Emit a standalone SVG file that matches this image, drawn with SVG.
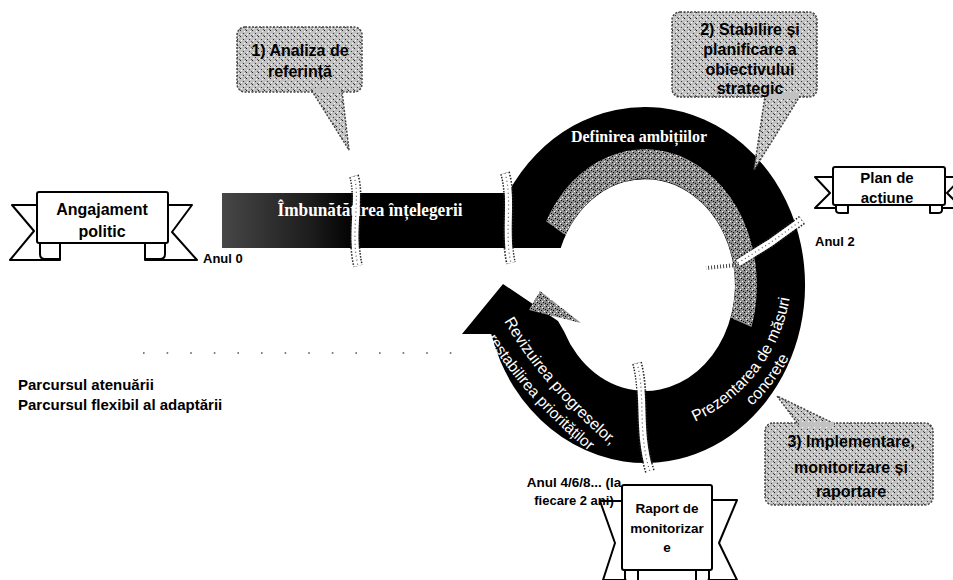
<svg xmlns="http://www.w3.org/2000/svg" width="953" height="580" viewBox="0 0 953 580">
<defs>
<pattern id="stipDark" width="6" height="6" patternUnits="userSpaceOnUse">
<rect width="6" height="6" fill="#8e8e8e"/>
<rect x="0" y="0" width="1" height="1" fill="#000"/><rect x="3" y="2" width="1" height="1" fill="#000"/>
<rect x="1" y="4" width="1" height="1" fill="#000"/><rect x="5" y="3" width="1" height="1" fill="#111"/>
<rect x="2" y="1" width="1" height="1" fill="#fff"/><rect x="4" y="5" width="1" height="1" fill="#fff"/>
</pattern>
<pattern id="stipLight" width="6" height="6" patternUnits="userSpaceOnUse">
<rect width="6" height="6" fill="#c2c2c2"/>
<rect x="0" y="0" width="1" height="1" fill="#222"/><rect x="3" y="3" width="1" height="1" fill="#333"/>
<rect x="1" y="4" width="1" height="1" fill="#fff"/><rect x="4" y="1" width="1" height="1" fill="#fff"/>
<rect x="5" y="5" width="1" height="1" fill="#555"/>
</pattern>
<linearGradient id="barGrad" gradientUnits="userSpaceOnUse" x1="222" y1="0" x2="520" y2="0">
<stop offset="0" stop-color="#474747"/><stop offset="0.3" stop-color="#1c1c1c"/><stop offset="0.45" stop-color="#000"/><stop offset="1" stop-color="#000"/>
</linearGradient>
<style>
.cl{font-family:"Liberation Sans",Arial,sans-serif;font-weight:bold;fill:#000;text-anchor:middle}
.lab{font-family:"Liberation Sans",Arial,sans-serif;font-weight:bold;fill:#000}
.rt{font-family:"Liberation Sans",Arial,sans-serif;fill:#fff}
.sf{font-family:"Liberation Serif","Times New Roman",serif;font-weight:bold;fill:#fff;text-anchor:middle}
.rib{fill:#fff;stroke:#000;stroke-width:2;stroke-linejoin:round}
.call{fill:url(#stipLight);stroke:#444;stroke-width:1.5;stroke-dasharray:2 1.5}
.divo{fill:none;stroke:#222;stroke-width:10;stroke-dasharray:1.5 1.5}
.divw{fill:none;stroke:#fff;stroke-width:7}
.divc{fill:none;stroke:#555;stroke-width:1.2;stroke-dasharray:1 3}
</style>
</defs>

<g id="ring">
<path id="seg-definirea" d="M 222,193 L 508,193 A 160 178 0 0 1 795.4,224.1 L 733.6,266.6 A 90 106 0 0 0 560.7,248 L 222,248 Z" fill="url(#barGrad)"/>
<path id="seg-prezentarea" d="M 795.4,224.1 A 160 178 0 0 1 650,462.9 L 640,390.8 A 90 106 0 0 0 733.6,266.6 Z" fill="#000"/>
<path id="seg-revizuirea" d="M 650,462.9 A 160 178 0 0 1 491.2,334.1 L 462,334 L 503,284 L 558,321 L 564.1,331.5 A 90 106 0 0 0 640,390.8 Z" fill="#000"/>
<path id="gray-band" d="M 546.1,221.2 A 112 136 0 0 1 751.5,327 L 730.6,317.8 A 90 106 0 0 0 565.5,235.2 Z" fill="url(#stipDark)"/>
<polygon id="gray-arrowhead" points="540,291 529,310 581,323" fill="url(#stipDark)"/>
</g>

<g id="connectors">
<path class="divo" d="M 354,176 C 361,200 350,232 358,266"/>
<path class="divw" d="M 354,176 C 361,200 350,232 358,266"/>
<path class="divc" d="M 354,176 C 361,200 350,232 358,266"/>
<path class="divo" d="M 505,173 C 513,200 504,235 511,263"/>
<path class="divw" d="M 505,173 C 513,200 504,235 511,263"/>
<path class="divc" d="M 505,173 C 513,200 504,235 511,263"/>
<path class="divo" d="M 802,220 L 770,243 L 738,263"/>
<path class="divw" d="M 802,220 L 770,243 L 738,263"/>
<path class="divc" d="M 802,220 L 770,243 L 738,263"/>
<path d="M 736,265 L 706,268" fill="none" stroke="#444" stroke-width="4" stroke-dasharray="1 2"/>
<path class="divo" d="M 637,363 C 646,395 637,430 650,472"/>
<path class="divw" d="M 637,363 C 646,395 637,430 650,472"/>
<path class="divc" d="M 637,363 C 646,395 637,430 650,472"/>
<line x1="143" y1="353" x2="452" y2="353" stroke="#555" stroke-width="1.6" stroke-dasharray="1.6 22"/>
</g>

<g id="ring-texts">
<text class="sf" x="370" y="216" font-size="18" textLength="185" lengthAdjust="spacingAndGlyphs">Îmbunătățirea înțelegerii</text>
<text class="sf" x="639" y="142" font-size="16">Definirea ambițiilor</text>
<path id="tp1" d="M 596.0,434.5 A 167 167 0 0 0 776.4,199.4" fill="none"/>
<path id="tp2" d="M 592.7,453.2 A 186 186 0 0 0 793.6,191.4" fill="none"/>
<text class="rt" font-size="16"><textPath href="#tp1" startOffset="50%" text-anchor="middle">Prezentarea de măsuri</textPath></text>
<text class="rt" font-size="16"><textPath href="#tp2" startOffset="50%" text-anchor="middle">concrete</textPath></text>
<path id="tp3" d="M 484,286 L 504,321 Q 538.5,382.5 611,446 L 641,472" fill="none"/>
<path id="tp4" d="M 463,299 L 484,333 Q 525,400 594,455 L 625,480" fill="none"/>
<text class="rt" font-size="16"><textPath href="#tp3" startOffset="50%" text-anchor="middle">Revizuirea progreselor,</textPath></text>
<text class="rt" font-size="15.5"><textPath href="#tp4" startOffset="50%" text-anchor="middle">restabilirea priorităților</textPath></text>
</g>

<g id="callout-1">
<rect class="call" x="237" y="27" width="125" height="65" rx="8"/>
<polygon class="call" points="312,91 342,91 349,150"/>
<rect x="313" y="88" width="28" height="5" fill="#c2c2c2"/>
<text class="cl" x="300" y="56" font-size="16">1) Analiza de</text>
<text class="cl" x="300" y="77" font-size="16">referință</text>
</g>

<g id="callout-2">
<rect class="call" x="672" y="12" width="145" height="85" rx="8"/>
<polygon class="call" points="765,96 800,96 754,170"/>
<rect x="766" y="93" width="33" height="5" fill="#c2c2c2"/>
<text class="cl" x="750" y="35" font-size="16">2) Stabilire și</text>
<text class="cl" x="750" y="55" font-size="16">planificare a</text>
<text class="cl" x="750" y="75" font-size="16">obiectivului</text>
<text class="cl" x="750" y="94" font-size="16">strategic</text>
</g>

<g id="callout-3">
<rect class="call" x="765" y="423" width="168" height="82" rx="8"/>
<polygon class="call" points="798,424 835,424 777,396"/>
<rect x="799" y="422" width="35" height="5" fill="#c2c2c2"/>
<text class="cl" x="851" y="447" font-size="16">3) Implementare,</text>
<text class="cl" x="851" y="473" font-size="16">monitorizare și</text>
<text class="cl" x="851" y="497" font-size="16">raportare</text>
</g>

<g id="ribbon-angajament">
<path class="rib" d="M 60,205 L 12,205 L 34,231 L 10,260 L 60,260 Z"/>
<path class="rib" d="M 145,205 L 192,205 L 172,232 L 197,260 L 145,260 Z"/>
<path class="rib" d="M 40,243 L 40,254 Q 40,259 45,259 L 60,259 L 60,243"/>
<path class="rib" d="M 165,243 L 165,254 Q 165,259 160,259 L 145,259 L 145,243"/>
<rect class="rib" x="37" y="192" width="131" height="51" rx="2"/>
<text class="cl" x="102" y="215" font-size="16">Angajament</text>
<text class="cl" x="102" y="237" font-size="16">politic</text>
</g>

<g id="ribbon-plan">
<path class="rib" d="M 845,177 L 815,177 L 830,193 L 815,208 L 845,208 Z"/>
<path class="rib" d="M 935,177 L 962,177 L 947,193 L 962,208 L 935,208 Z"/>
<path class="rib" d="M 836,205 L 836,210 Q 836,213 840,213 L 848,213 L 848,205"/>
<path class="rib" d="M 942,205 L 942,210 Q 942,213 938,213 L 930,213 L 930,205"/>
<rect class="rib" x="833" y="167" width="112" height="38" rx="2"/>
<text class="cl" x="887" y="183" font-size="15">Plan de</text>
<text class="cl" x="887" y="203" font-size="15">acțiune</text>
</g>

<g id="ribbon-raport">
<path class="rib" d="M 630,501 L 600,501 L 615,543 L 603,580 L 630,580 Z"/>
<path class="rib" d="M 705,500 L 737,500 L 719,543 L 737,580 L 705,580 Z"/>
<path class="rib" d="M 625,570 L 625,578 Q 625,582 630,582 L 638,582 L 638,570"/>
<path class="rib" d="M 709,570 L 709,578 Q 709,582 704,582 L 696,582 L 696,570"/>
<rect class="rib" x="622" y="485" width="90" height="85" rx="2"/>
<text class="cl" x="667" y="513" font-size="13.5">Raport de</text>
<text class="cl" x="667" y="533" font-size="13.5">monitorizar</text>
<text class="cl" x="667" y="552" font-size="13.5">e</text>
</g>

<g id="labels">
<text class="lab" x="203" y="263" font-size="13">Anul 0</text>
<text class="lab" x="815" y="246" font-size="13">Anul 2</text>
<text class="lab" x="574" y="487" font-size="13.5" text-anchor="middle">Anul 4/6/8... (la</text>
<text class="lab" x="574" y="505" font-size="13" text-anchor="middle">fiecare 2 ani)</text>
<text class="lab" x="18" y="390" font-size="15">Parcursul atenuării</text>
<text class="lab" x="18" y="410" font-size="15">Parcursul flexibil al adaptării</text>
</g>
</svg>
